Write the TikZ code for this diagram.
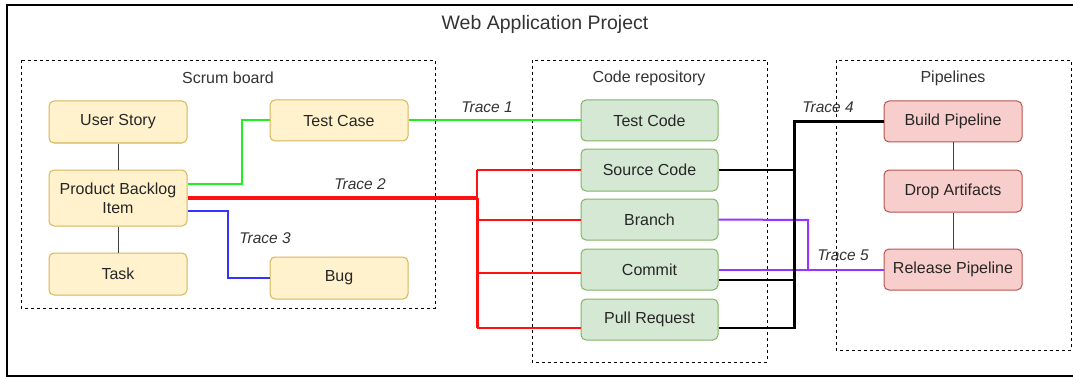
\documentclass[tikz,border=0pt]{standalone}
\usepackage{fontspec}
\setmainfont{Liberation Sans}
\usetikzlibrary{calc}
\definecolor{yfill}{HTML}{FFF2CC}
\definecolor{ydraw}{HTML}{D6B656}
\definecolor{gfill}{HTML}{D5E8D4}
\definecolor{gdraw}{HTML}{82B366}
\definecolor{rfill}{HTML}{F8CECC}
\definecolor{rdraw}{HTML}{B85450}
\definecolor{txt}{HTML}{333333}
\definecolor{tgreen}{HTML}{22EE22}
\definecolor{tred}{HTML}{FF1111}
\definecolor{tblue}{HTML}{3333FF}
\definecolor{tpurple}{HTML}{9933FF}
\tikzset{
  box/.style={draw, rounded corners=5pt, line width=1pt, minimum width=138pt, minimum height=41pt, inner sep=0pt, align=center, font=\fontsize{16}{19}\selectfont, text=black!85},
  ybox/.style={box, fill=yfill, draw=ydraw},
  gbox/.style={box, fill=gfill, draw=gdraw, minimum width=137pt},
  rbox/.style={box, fill=rfill, draw=rdraw},
  container/.style={draw, dashed, dash pattern=on 3pt off 3pt, line width=0.9pt},
  clabel/.style={font=\fontsize{16}{19}\selectfont, text=txt},
  tlabel/.style={font=\fontsize{15.5}{18}\selectfont\itshape, text=txt},
  link/.style={draw=black!75, line width=1pt},
  tr/.style={line width=2pt}
}
\begin{document}
\begin{tikzpicture}[x=1pt,y=-1pt]
\useasboundingbox (0,0) rectangle (1073,377);
\begin{scope}
\clip (0,0) rectangle (1073,377);
\draw[line width=1.2pt] (7,5) rectangle (1090,376);
\end{scope}
\node[font=\fontsize{19.5}{23}\selectfont, text=txt] (title) at (545,24) {Web Application Project};

% containers
\draw[container] (21,60) rectangle (435,308);
\draw[container] (532,60) rectangle (767,362);
\draw[container] (836,60) rectangle (1071,350);
\node[clabel] (lscrum) at (228,78) {Scrum board};
\node[clabel] (lcode) at (649,78) {Code repository};
\node[clabel] (lpipe) at (953,78) {Pipelines};

% connectors (drawn before nodes)
\coordinate (g1) at (242,184);
\coordinate (g2) at (242,120.5);
\coordinate (rj) at (477,198);
\coordinate (bj) at (228,211);
\coordinate (bj2) at (228,278);
\coordinate (kj) at (794,122);
\coordinate (pj) at (808,220);
\coordinate (pj2) at (808,269.5);

% nodes
\node[ybox, minimum height=42pt] (us) at (118,122) {User Story};
\node[ybox, minimum height=56pt] (pbi) at (118,198) {Product Backlog\\Item};
\node[ybox, minimum height=42pt] (task) at (118,274) {Task};
\node[ybox] (tc) at (339,120.5) {Test Case};
\node[ybox, minimum height=42pt] (bug) at (339,278) {Bug};

\node[gbox] (tcode) at (649.5,120.5) {Test Code};
\node[gbox, minimum height=42pt] (src) at (649.5,170) {Source Code};
\node[gbox] (br) at (649.5,219.5) {Branch};
\node[gbox] (cm) at (649.5,269.5) {Commit};
\node[gbox] (pr) at (649.5,319.5) {Pull Request};

\node[rbox] (bp) at (953,121.5) {Build Pipeline};
\node[rbox, minimum height=42pt] (da) at (953,191) {Drop Artifacts};
\node[rbox] (rp) at (953,269.5) {Release Pipeline};

% plain links
\draw[link] (us) -- (pbi);
\draw[link] (pbi) -- (task);
\draw[link] (bp) -- (da);
\draw[link] (da) -- (rp);

% Trace 1 (green)
\draw[tr, tgreen] (pbi.east |- g1) -- (g1) -- (g2) -- (tc.west);
\draw[tr, tgreen] (tc.east) -- (tcode.west);

% Trace 3 (blue)
\draw[tr, tblue] (pbi.east |- bj) -- (bj) -- (bj2) -- (bug.west |- bj2);

% Trace 2 (red)
\draw[tred, line width=2pt] (rj |- src.west) -- (rj);
\draw[tred, line width=2pt] (rj |- src.west) -- (src.west);
\draw[tred, line width=2pt] (rj |- br.west) -- (br.west);
\draw[tred, line width=2pt] (477,273) -- (cm.west |- 0,273);
\draw[tred, line width=2pt] (477,328) -- (pr.west |- 0,328);
\draw[tred, line width=3pt] (rj) -- (477,328);
\draw[tred, line width=3.5pt] (pbi.east |- rj) -- (rj);

% Trace 5 (purple)
\draw[tr, tpurple] (br.east) -- (pj) -- (pj2);
\draw[tr, tpurple] (cm.east) -- (rp.west);

% Trace 4 (black)
\draw[black, line width=2pt] (src.east) -- (src.east -| kj);
\draw[black, line width=2pt] (cm.east |- 0,280) -- (794,280);
\draw[black, line width=2pt] (pr.east |- 0,328) -- (794,328);
\draw[black, line width=3pt] (794,329) -- (kj) -- (bp.west |- kj);

% trace labels
\node[tlabel] (t1) at (487,107) {Trace 1};
\node[tlabel] (t2) at (360,184) {Trace 2};
\node[tlabel] (t3) at (265,238) {Trace 3};
\node[tlabel] (t4) at (828,107) {Trace 4};
\node[tlabel] (t5) at (843,255) {Trace 5};
\end{tikzpicture}
\end{document}
